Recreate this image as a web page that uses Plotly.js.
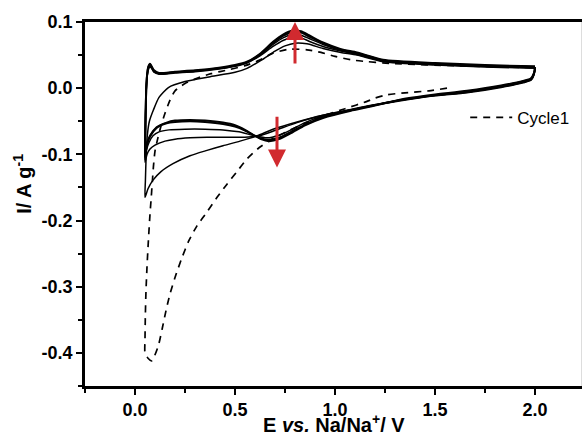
<!DOCTYPE html>
<html>
<head>
<meta charset="utf-8">
<script src="https://cdn.plot.ly/plotly-3.0.1.min.js"></script>
<style>
html,body{margin:0;padding:0;background:#fff;}
#chart{width:582px;height:438px;}
</style>
</head>
<body>
<div id="chart"></div>
<script>
// ---- Data ----
// Cycle 1 (dashed): starts at OCV, cathodic scan to 0.05 V, then anodic to 2.0 V
const cycle1E = [1.56, 1.47, 1.35, 1.26, 1.2, 1.16, 1.05, 0.95, 0.85, 0.75, 0.68, 0.62, 0.56, 0.51, 0.46, 0.415, 0.36, 0.31, 0.27, 0.235, 0.2, 0.175, 0.155, 0.137, 0.117, 0.097, 0.083, 0.065, 0.05, 0.05, 0.052, 0.055, 0.06, 0.067, 0.075, 0.08, 0.087, 0.092, 0.1, 0.113, 0.13, 0.15, 0.175, 0.2, 0.25, 0.31, 0.38, 0.47, 0.55, 0.62, 0.69, 0.775, 0.86, 0.93, 1.0, 1.1, 1.3, 1.6, 2.0];
const cycle1I = [0.0, -0.004, -0.007, -0.01, -0.015, -0.02, -0.031, -0.041, -0.053, -0.067, -0.078, -0.09, -0.107, -0.126, -0.145, -0.163, -0.187, -0.208, -0.23, -0.256, -0.286, -0.311, -0.336, -0.362, -0.389, -0.405, -0.412, -0.408, -0.4, -0.38, -0.34, -0.306, -0.27, -0.23, -0.19, -0.17, -0.14, -0.119, -0.095, -0.077, -0.057, -0.038, -0.018, -0.004, 0.007, 0.015, 0.022, 0.028, 0.034, 0.042, 0.053, 0.059, 0.058, 0.054, 0.048, 0.042, 0.037, 0.034, 0.031];

// Cycle 2 (thin solid)
const cycle2E = [2.0, 1.995, 1.98, 1.94, 1.83, 1.66, 1.49, 1.33, 1.16, 1.08, 0.94, 0.81, 0.69, 0.61, 0.525, 0.44, 0.36, 0.275, 0.19, 0.13, 0.09, 0.065, 0.05, 0.052, 0.056, 0.062, 0.072, 0.092, 0.12, 0.167, 0.25, 0.37, 0.5, 0.56, 0.63, 0.7, 0.75, 0.8, 0.86, 0.94, 1.03, 1.11, 1.24, 1.5, 1.75, 2.0];
const cycle2I = [0.031, 0.02, 0.012, 0.008, 0.001, -0.007, -0.012, -0.019, -0.028, -0.033, -0.041, -0.051, -0.062, -0.072, -0.08, -0.087, -0.094, -0.102, -0.114, -0.126, -0.139, -0.152, -0.165, -0.14, -0.1, -0.07, -0.05, -0.033, -0.014, 0.001, 0.01, 0.017, 0.024, 0.03, 0.042, 0.056, 0.064, 0.068, 0.067, 0.06, 0.054, 0.05, 0.04, 0.035, 0.032, 0.03];

// Cycle 3
const cycle3E = [2.0, 1.995, 1.98, 1.94, 1.83, 1.66, 1.49, 1.33, 1.16, 1.08, 0.94, 0.81, 0.7, 0.62, 0.55, 0.45, 0.36, 0.275, 0.2, 0.15, 0.1, 0.075, 0.06, 0.05, 0.051, 0.053, 0.056, 0.06, 0.066, 0.074, 0.083, 0.095, 0.12, 0.2, 0.3, 0.42, 0.5, 0.56, 0.625, 0.69, 0.74, 0.79, 0.83, 0.87, 0.94, 1.03, 1.11, 1.24, 1.5, 1.75, 2.0];
const cycle3I = [0.03, 0.021, 0.013, 0.009, 0.002, -0.006, -0.011, -0.018, -0.027, -0.032, -0.041, -0.052, -0.064, -0.072, -0.074, -0.074, -0.074, -0.075, -0.077, -0.08, -0.086, -0.092, -0.1, -0.112, -0.08, -0.04, -0.005, 0.015, 0.027, 0.032, 0.03, 0.024, 0.021, 0.023, 0.025, 0.029, 0.033, 0.038, 0.049, 0.063, 0.072, 0.077, 0.076, 0.071, 0.063, 0.056, 0.051, 0.041, 0.036, 0.033, 0.031];

// Cycle 4
const cycle4E = [2.0, 1.995, 1.98, 1.94, 1.83, 1.66, 1.49, 1.33, 1.16, 1.08, 0.94, 0.85, 0.78, 0.72, 0.66, 0.6, 0.52, 0.44, 0.35, 0.25, 0.17, 0.12, 0.09, 0.07, 0.057, 0.05, 0.051, 0.053, 0.056, 0.06, 0.066, 0.074, 0.083, 0.095, 0.12, 0.2, 0.3, 0.42, 0.5, 0.56, 0.625, 0.69, 0.74, 0.79, 0.83, 0.87, 0.94, 1.03, 1.11, 1.24, 1.5, 1.75, 2.0];
const cycle4I = [0.031, 0.022, 0.013, 0.009, 0.002, -0.006, -0.011, -0.018, -0.028, -0.033, -0.042, -0.052, -0.063, -0.071, -0.075, -0.072, -0.066, -0.063, -0.062, -0.062, -0.063, -0.066, -0.072, -0.082, -0.094, -0.108, -0.08, -0.04, -0.004, 0.017, 0.029, 0.034, 0.031, 0.025, 0.022, 0.024, 0.026, 0.03, 0.034, 0.039, 0.05, 0.066, 0.076, 0.081, 0.08, 0.075, 0.066, 0.057, 0.052, 0.041, 0.036, 0.033, 0.031];

// Cycle 5
const cycle5E = [2.0, 1.995, 1.98, 1.94, 1.83, 1.66, 1.49, 1.33, 1.16, 1.08, 0.94, 0.85, 0.78, 0.72, 0.67, 0.63, 0.6, 0.55, 0.5, 0.44, 0.35, 0.275, 0.2, 0.158, 0.108, 0.075, 0.06, 0.05, 0.051, 0.053, 0.056, 0.06, 0.066, 0.075, 0.083, 0.095, 0.12, 0.2, 0.3, 0.42, 0.5, 0.56, 0.625, 0.69, 0.74, 0.79, 0.83, 0.87, 0.94, 1.03, 1.11, 1.24, 1.5, 1.75, 2.0];
const cycle5I = [0.031, 0.022, 0.014, 0.01, 0.003, -0.005, -0.011, -0.018, -0.028, -0.033, -0.044, -0.055, -0.066, -0.075, -0.078, -0.076, -0.072, -0.064, -0.058, -0.054, -0.051, -0.05, -0.051, -0.053, -0.06, -0.073, -0.085, -0.104, -0.08, -0.04, -0.003, 0.018, 0.031, 0.036, 0.032, 0.026, 0.022, 0.024, 0.026, 0.03, 0.034, 0.039, 0.051, 0.068, 0.079, 0.085, 0.084, 0.078, 0.068, 0.058, 0.053, 0.042, 0.037, 0.034, 0.032];

// Cycle 6
const cycle6E = [2.0, 1.995, 1.98, 1.94, 1.83, 1.66, 1.49, 1.33, 1.16, 1.08, 0.94, 0.85, 0.78, 0.72, 0.67, 0.63, 0.6, 0.55, 0.5, 0.44, 0.35, 0.275, 0.2, 0.158, 0.108, 0.075, 0.06, 0.05, 0.051, 0.053, 0.056, 0.06, 0.066, 0.075, 0.083, 0.095, 0.12, 0.2, 0.3, 0.42, 0.5, 0.56, 0.625, 0.69, 0.74, 0.79, 0.83, 0.87, 0.94, 1.03, 1.11, 1.24, 1.5, 1.75, 2.0];
const cycle6I = [0.032, 0.023, 0.015, 0.011, 0.004, -0.004, -0.01, -0.017, -0.029, -0.034, -0.045, -0.056, -0.068, -0.077, -0.08, -0.077, -0.072, -0.063, -0.056, -0.052, -0.049, -0.048, -0.049, -0.052, -0.059, -0.072, -0.084, -0.1, -0.078, -0.038, -0.002, 0.019, 0.032, 0.037, 0.033, 0.027, 0.023, 0.025, 0.027, 0.031, 0.035, 0.04, 0.052, 0.07, 0.081, 0.087, 0.086, 0.08, 0.069, 0.059, 0.054, 0.043, 0.038, 0.035, 0.033];

const xTickVals = [0.0, 0.5, 1.0, 1.5, 2.0];
const xTickText = ['0.0', '0.5', '1.0', '1.5', '2.0'];
const yTickVals = [0.1, 0.0, -0.1, -0.2, -0.3, -0.4];
const yTickText = ['0.1', '0.0', '-0.1', '-0.2', '-0.3', '-0.4'];

// ---- Traces ----
const solidCycles = [
  [cycle2E, cycle2I, 1.5],
  [cycle3E, cycle3I, 1.5],
  [cycle4E, cycle4I, 1.5],
  [cycle5E, cycle5I, 2.0],
  [cycle6E, cycle6I, 2.0]
];
const traces = solidCycles.map(function (c, i) {
  return {
    x: c[0], y: c[1], type: 'scatter', mode: 'lines',
    line: {color: '#000', width: c[2], shape: 'spline', smoothing: 0.6},
    showlegend: false, name: 'Cycle' + (i + 2), hoverinfo: 'skip'
  };
});
traces.push({
  x: cycle1E, y: cycle1I, type: 'scatter', mode: 'lines', name: 'Cycle1',
  line: {color: '#000', width: 1.7, dash: '7px,6px', shape: 'spline', smoothing: 0.6},
  showlegend: true
});

const FAM = 'Liberation Sans, Arial, sans-serif';
const tickFont = {family: FAM, size: 18, color: '#000', weight: 700};
const bold = function (a) { return a.map(function (t) { return '<b>' + t + '</b>'; }); };

const layout = {
  width: 582, height: 438,
  margin: {l: 85, r: 0, t: 22, b: 52, pad: 0},
  paper_bgcolor: '#fff', plot_bgcolor: '#fff',
  font: {family: FAM, color: '#000'},
  xaxis: {
    range: [-0.25, 2.235], showgrid: false, zeroline: false,
    showline: true, linecolor: '#000', linewidth: 2.8, mirror: true,
    ticks: 'outside', ticklen: 6, tickwidth: 2, tickcolor: '#000',
    tickmode: 'array', tickvals: xTickVals, ticktext: bold(xTickText),
    tickfont: tickFont,
    minor: {tickmode: 'linear', tick0: 0, dtick: 0.25, ticks: 'outside', ticklen: 4, tickwidth: 2, tickcolor: '#000', showgrid: false}
  },
  yaxis: {
    range: [-0.45, 0.1], showgrid: false, zeroline: false,
    showline: true, linecolor: '#000', linewidth: 2.8,
    ticks: 'outside', ticklen: 6, tickwidth: 2, tickcolor: '#000',
    tickmode: 'array', tickvals: yTickVals, ticktext: bold(yTickText),
    tickfont: tickFont,
    minor: {tickmode: 'linear', tick0: 0.05, dtick: 0.1, ticks: 'outside', ticklen: 4, tickwidth: 2, tickcolor: '#000', showgrid: false}
  },
  legend: {
    x: 0.765, y: 0.737, xanchor: 'left', yanchor: 'middle',
    itemwidth: 42,
    bgcolor: 'rgba(0,0,0,0)', borderwidth: 0,
    font: {family: FAM, size: 17, color: '#000'}
  },
  shapes: [
    {type: 'line', xref: 'paper', yref: 'paper', x0: 1, x1: 1, y0: 0, y1: 1, line: {color: '#bbb', width: 1}}
  ],
  annotations: [
    {xref: 'paper', yref: 'paper', x: 0.5, y: -0.1405, xanchor: 'center', yanchor: 'bottom', showarrow: false, borderpad: 0,
     text: '<b>E <i>vs.</i> Na/Na<sup>+</sup>/ V</b>', font: {family: FAM, size: 20, color: '#000'}},
    {xref: 'paper', yref: 'paper', x: -0.125, y: 0.555, xanchor: 'center', yanchor: 'middle', textangle: -90, showarrow: false,
     text: '<b>I/ A g<sup>-1</sup></b>', font: {family: FAM, size: 20, color: '#000'}},
    {x: 0.80, y: 0.1, ax: 0.80, ay: 0.035, xref: 'x', yref: 'y', axref: 'x', ayref: 'y', text: '', showarrow: true, arrowhead: 2, arrowsize: 1.2, arrowwidth: 3, arrowcolor: '#d12a2f'},
    {x: 0.71, y: -0.12, ax: 0.71, ay: -0.041, xref: 'x', yref: 'y', axref: 'x', ayref: 'y', text: '', showarrow: true, arrowhead: 2, arrowsize: 1.2, arrowwidth: 3, arrowcolor: '#d12a2f'}
  ]
};

Plotly.newPlot('chart', traces, layout, {displayModeBar: false, staticPlot: true});
</script>
</body>
</html>
